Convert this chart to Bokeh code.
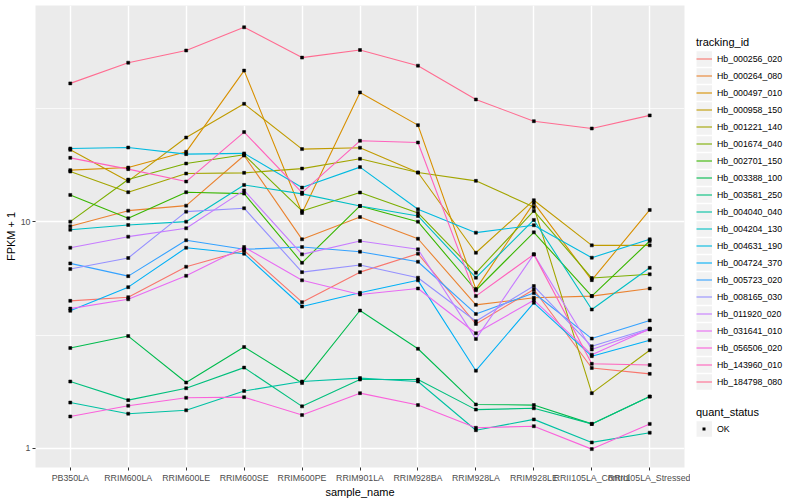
from bokeh.plotting import figure
from bokeh.layouts import row
from bokeh.models import FactorRange, Range1d, FixedTicker, Legend, LegendItem
from bokeh.embed import file_html
from bokeh.resources import INLINE

# ---------------- data ----------------
samples = ["PB350LA", "RRIM600LA", "RRIM600LE", "RRIM600SE", "RRIM600PE",
           "RRIM901LA", "RRIM928BA", "RRIM928LA", "RRIM928LE",
           "RRII105LA_Control", "RRII105LA_Stressed"]

tracking_ids = ["Hb_000256_020", "Hb_000264_080", "Hb_000497_010", "Hb_000958_150",
                "Hb_001221_140", "Hb_001674_040", "Hb_002701_150", "Hb_003388_100",
                "Hb_003581_250", "Hb_004040_040", "Hb_004204_130", "Hb_004631_190",
                "Hb_004724_370", "Hb_005723_020", "Hb_008165_030", "Hb_011920_020",
                "Hb_031641_010", "Hb_056506_020", "Hb_143960_010", "Hb_184798_080"]

# FPKM + 1 per sample (in the order of `samples`)
Hb_000256_020 = [4.48, 4.65, 6.34, 7.48, 4.42, 6.00, 7.24, 3.54, 5.03, 2.26, 2.13]
Hb_000264_080 = [9.57, 11.22, 11.81, 19.67, 8.38, 10.52, 8.43, 4.30, 4.62, 4.70, 5.08]
Hb_000497_010 = [16.95, 17.40, 20.42, 46.7, 10.96, 37.4, 26.8, 5.05, 12.14, 5.53, 11.30]
Hb_000958_150 = [20.84, 15.15, 23.63, 33.3, 21.0, 21.3, 16.54, 7.31, 12.48, 7.88, 7.88]
Hb_001221_140 = [16.71, 13.54, 16.37, 16.49, 17.22, 19.02, 16.54, 15.20, 11.65, 1.75, 2.71]
Hb_001674_040 = [10.03, 15.40, 18.13, 19.81, 11.19, 13.49, 10.96, 5.96, 11.19, 5.65, 5.87]
Hb_002701_150 = [13.17, 10.38, 13.54, 13.35, 6.60, 11.77, 10.03, 4.99, 9.00, 4.70, 8.24]
Hb_003388_100 = [2.77, 3.13, 1.95, 2.80, 1.94, 4.06, 2.75, 1.56, 1.55, 1.28, 1.69]
Hb_003581_250 = [1.97, 1.63, 1.84, 2.27, 1.53, 2.01, 2.01, 1.48, 1.50, 1.28, 1.69]
Hb_004040_040 = [1.59, 1.42, 1.47, 1.79, 1.97, 2.04, 1.97, 1.20, 1.34, 1.06, 1.17]
Hb_004204_130 = [9.24, 9.70, 10.03, 14.58, 13.31, 11.77, 10.63, 5.67, 10.21, 4.10, 6.27]
Hb_004631_190 = [21.13, 21.34, 19.95, 20.1, 14.19, 17.48, 11.38, 8.97, 9.67, 6.95, 8.38]
Hb_004724_370 = [4.05, 5.15, 7.69, 7.24, 4.23, 4.86, 5.52, 2.20, 4.39, 2.55, 3.00]
Hb_005723_020 = [6.56, 5.76, 8.30, 7.57, 7.75, 7.39, 6.67, 3.92, 4.85, 3.05, 3.67]
Hb_008165_030 = [6.19, 6.93, 11.11, 11.50, 6.00, 6.45, 5.67, 3.64, 5.21, 2.82, 3.38]
Hb_011920_020 = [7.69, 8.61, 9.38, 13.79, 7.19, 8.24, 7.57, 3.04, 7.19, 2.73, 3.35]
Hb_031641_010 = [4.14, 4.55, 5.78, 7.75, 5.52, 4.78, 5.08, 3.22, 4.51, 2.59, 3.36]
Hb_056506_020 = [1.38, 1.54, 1.67, 1.68, 1.40, 1.75, 1.55, 1.23, 1.25, 0.99, 1.28]
Hb_143960_010 = [19.21, 17.12, 15.09, 24.97, 13.49, 22.85, 22.46, 4.70, 7.19, 2.36, 2.33]
Hb_184798_080 = [41.0, 50.6, 57.3, 72.6, 53.3, 57.6, 49.1, 34.8, 27.9, 25.9, 29.6]

series = [Hb_000256_020, Hb_000264_080, Hb_000497_010, Hb_000958_150, Hb_001221_140,
          Hb_001674_040, Hb_002701_150, Hb_003388_100, Hb_003581_250, Hb_004040_040,
          Hb_004204_130, Hb_004631_190, Hb_004724_370, Hb_005723_020, Hb_008165_030,
          Hb_011920_020, Hb_031641_010, Hb_056506_020, Hb_143960_010, Hb_184798_080]

quant_status = ["OK"]
y_ticks = [1, 10]
y_tick_labels = ["1", "10"]

# ---------------- style ----------------
colors = ["#F8766D", "#EA8331", "#D89000", "#C09B00", "#A3A500", "#7CAE00", "#39B600",
          "#00BB4E", "#00BF7D", "#00C1A3", "#00BFC4", "#00BAE0", "#00B0F6", "#35A2FF",
          "#9590FF", "#C77CFF", "#E76BF3", "#FA62DB", "#FF62BC", "#FF6C91"]
FONT = "Liberation Sans"

p = figure(width=690, height=500,
           x_range=FactorRange(factors=samples, range_padding=0.1, range_padding_units="absolute"),
           y_range=Range1d(0.821, 90.6), y_axis_type="log",
           output_backend="svg", toolbar_location=None, title=None,
           min_border_top=5, min_border_left=35, min_border_right=6, min_border_bottom=33,
           background_fill_color="#EBEBEB", border_fill_color="white", outline_line_color=None)

p.xgrid.grid_line_color = "white"
p.xgrid.grid_line_width = 1.4
p.ygrid.grid_line_color = "white"
p.ygrid.grid_line_width = 1.4
p.ygrid.minor_grid_line_color = "white"
p.ygrid.minor_grid_line_width = 0.7

p.yaxis.ticker = FixedTicker(ticks=y_ticks, minor_ticks=[10 ** 0.5, 10 ** 1.5])
p.yaxis.major_label_overrides = {t: lab for t, lab in zip(y_ticks, y_tick_labels)}

for ax in (p.xaxis, p.yaxis):
    ax.axis_line_color = None
    ax.major_tick_line_color = "#333333"
    ax.major_tick_line_width = 1
    ax.major_tick_out = 3
    ax.major_tick_in = 0
    ax.minor_tick_out = 0
    ax.minor_tick_in = 0
    ax.minor_tick_line_color = None
    ax.major_label_text_font = FONT
    ax.major_label_text_font_size = "8.8px"
    ax.major_label_text_color = "#4D4D4D"
    ax.axis_label_text_font = FONT
    ax.axis_label_text_font_size = "11px"
    ax.axis_label_text_font_style = "normal"
    ax.axis_label_text_color = "black"

p.xaxis.axis_label = "sample_name"
p.yaxis.axis_label = "FPKM + 1"
p.xaxis.major_label_standoff = 2
p.xaxis.axis_label_standoff = 0
p.yaxis.major_label_standoff = 2
p.yaxis.axis_label_standoff = 1

all_x, all_y = [], []
for vals, col in zip(series, colors):
    p.line(x=samples, y=vals, line_color=col, line_width=1.1)
    all_x.extend(samples)
    all_y.extend(vals)

p.scatter(x=all_x, y=all_y, marker="square", size=3, line_width=0.5,
          fill_color="black", line_color="black")

# ---------------- legend panel ----------------
lg = figure(width=110, height=500, x_range=Range1d(0, 1), y_range=Range1d(0, 1),
            output_backend="svg", toolbar_location=None, title=None,
            x_axis_location=None, y_axis_location=None,
            min_border=0, min_border_top=0, min_border_bottom=0,
            min_border_left=0, min_border_right=0,
            background_fill_color="white", border_fill_color="white",
            outline_line_color=None)
lg.grid.visible = False

# legend-only renderers, placed outside the visible range of the legend panel
off_x = [-5, -4]
off_y = [-5, -5]
key = lg.line(x=off_x, y=off_y, line_color="#F2F2F2", line_width=15.5, line_cap="butt")
items = []
for tid, col in zip(tracking_ids, colors):
    r = lg.line(x=off_x, y=off_y, line_color=col, line_width=1.1)
    items.append(LegendItem(label=tid, renderers=[key, r]))
# small black square key for quant_status: a 3px-wide dash centred in the key
pt_key = lg.line(x=off_x, y=off_y, line_color="black", line_width=3, line_cap="butt",
                 line_dash="3 13", line_dash_offset=10)

def style_legend(leg):
    leg.glyph_width = 16
    leg.glyph_height = 17
    leg.label_height = 17
    leg.label_standoff = 5
    leg.spacing = 0
    leg.padding = 0
    leg.margin = 0
    leg.border_line_color = None
    leg.background_fill_color = "white"
    leg.title_text_font = FONT
    leg.title_text_font_size = "11px"
    leg.title_text_font_style = "normal"
    leg.title_text_color = "black"
    leg.title_standoff = 2
    leg.label_text_font = FONT
    leg.label_text_font_size = "8.8px"
    leg.label_text_color = "black"

leg1 = Legend(items=items, title="tracking_id", location=(6, 77))
style_legend(leg1)
lg.add_layout(leg1)

leg2 = Legend(items=[LegendItem(label=quant_status[0], renderers=[key, pt_key])],
              title="quant_status", location=(6, 30))
style_legend(leg2)
lg.add_layout(leg2)

layout = row(p, lg)
open("out.html", "w").write(file_html(layout, INLINE))
